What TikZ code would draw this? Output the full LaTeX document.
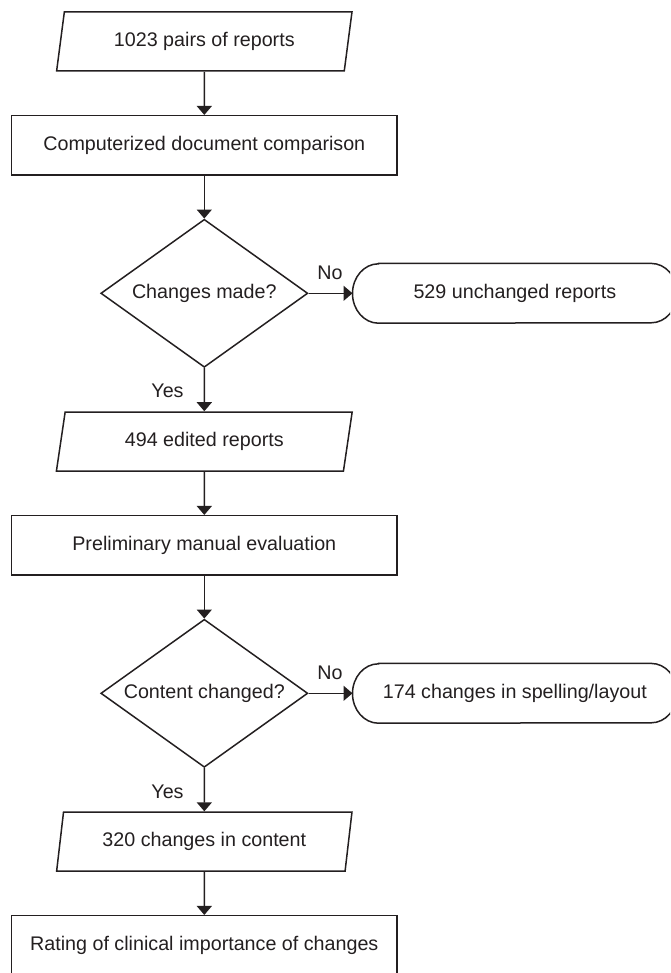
\documentclass[tikz,border=0pt]{standalone}
\usepackage{fontspec}
\setmainfont{Liberation Sans}
\usetikzlibrary{arrows.meta,shapes.geometric}
\definecolor{ink}{RGB}{35,31,32}
\begin{document}
\begin{tikzpicture}[x=1pt,y=1pt,
  every node/.style={font=\fontsize{19.7}{23}\selectfont, text=ink},
  box/.style={draw=ink, line width=1.5pt, rectangle, minimum width=385.6pt, minimum height=59.3pt, inner sep=0pt},
  io/.style={draw=ink, line width=1.5pt, trapezium, trapezium left angle=74.83, trapezium right angle=105.17, trapezium stretches, minimum width=296pt, minimum height=59pt, inner sep=0pt},
  decision/.style={draw=ink, line width=1.5pt, diamond, aspect=1.4, minimum width=207pt, minimum height=148pt, inner sep=0pt},
  terminal/.style={rectangle, minimum width=324.3pt, minimum height=59.4pt, inner sep=0pt},
  termline/.style={draw=ink, line width=1.5pt},
  lbl/.style={inner sep=0pt},
  flow/.style={draw=ink, line width=1.5pt, -{Triangle[width=15pt,length=9pt]}}
]
\useasboundingbox (0,0) rectangle (670,-973);
\clip (0,0) rectangle (670,-973);

\node[io] (p1) at (204.3,-41.5) {1023 pairs of reports};
\node[box] (r1) at (204.3,-145.35) {Computerized document comparison};
\node[decision] (d1) at (204.3,-293.3) {Changes made?};
\node[terminal] (s1) at (514.85,-293.3) {529 unchanged reports};
\node[io] (p2) at (204.3,-441.5) {494 edited reports};
\node[box] (r2) at (204.3,-545.35) {Preliminary manual evaluation};
\node[decision] (d2) at (204.3,-693.3) {Content changed?};
\node[terminal] (s2) at (514.85,-693.3) {174 changes in spelling/layout};
\node[io] (p3) at (204.3,-841.6) {320 changes in content};
\node[box] (r3) at (204.3,-945.35) {Rating of clinical importance of changes};

\foreach \s in {s1,s2}{
  \draw[termline] ([xshift=26pt]\s.north west) -- ([xshift=-26pt]\s.north east)
    arc[start angle=90, end angle=-90, x radius=26pt, y radius=29.7pt]
    -- ([xshift=26pt]\s.south west)
    arc[start angle=270, end angle=90, x radius=26pt, y radius=29.7pt] -- cycle;
}

\draw[flow] (p1.south) -- (r1.north);
\draw[flow] (r1.south) -- (d1.north);
\draw[flow] (d1.east) -- (s1.west);
\draw[flow] (d1.south) -- (p2.north);
\draw[flow] (p2.south) -- (r2.north);
\draw[flow] (r2.south) -- (d2.north);
\draw[flow] (d2.east) -- (s2.west);
\draw[flow] (d2.south) -- (p3.north);
\draw[flow] (p3.south) -- (r3.north);

\node[lbl] (no1) at (330,-272.7) {No};
\node[lbl] (yes1) at (167.5,-390.7) {Yes};
\node[lbl] (no2) at (330,-672.7) {No};
\node[lbl] (yes2) at (167.5,-791.7) {Yes};
\end{tikzpicture}
\end{document}
